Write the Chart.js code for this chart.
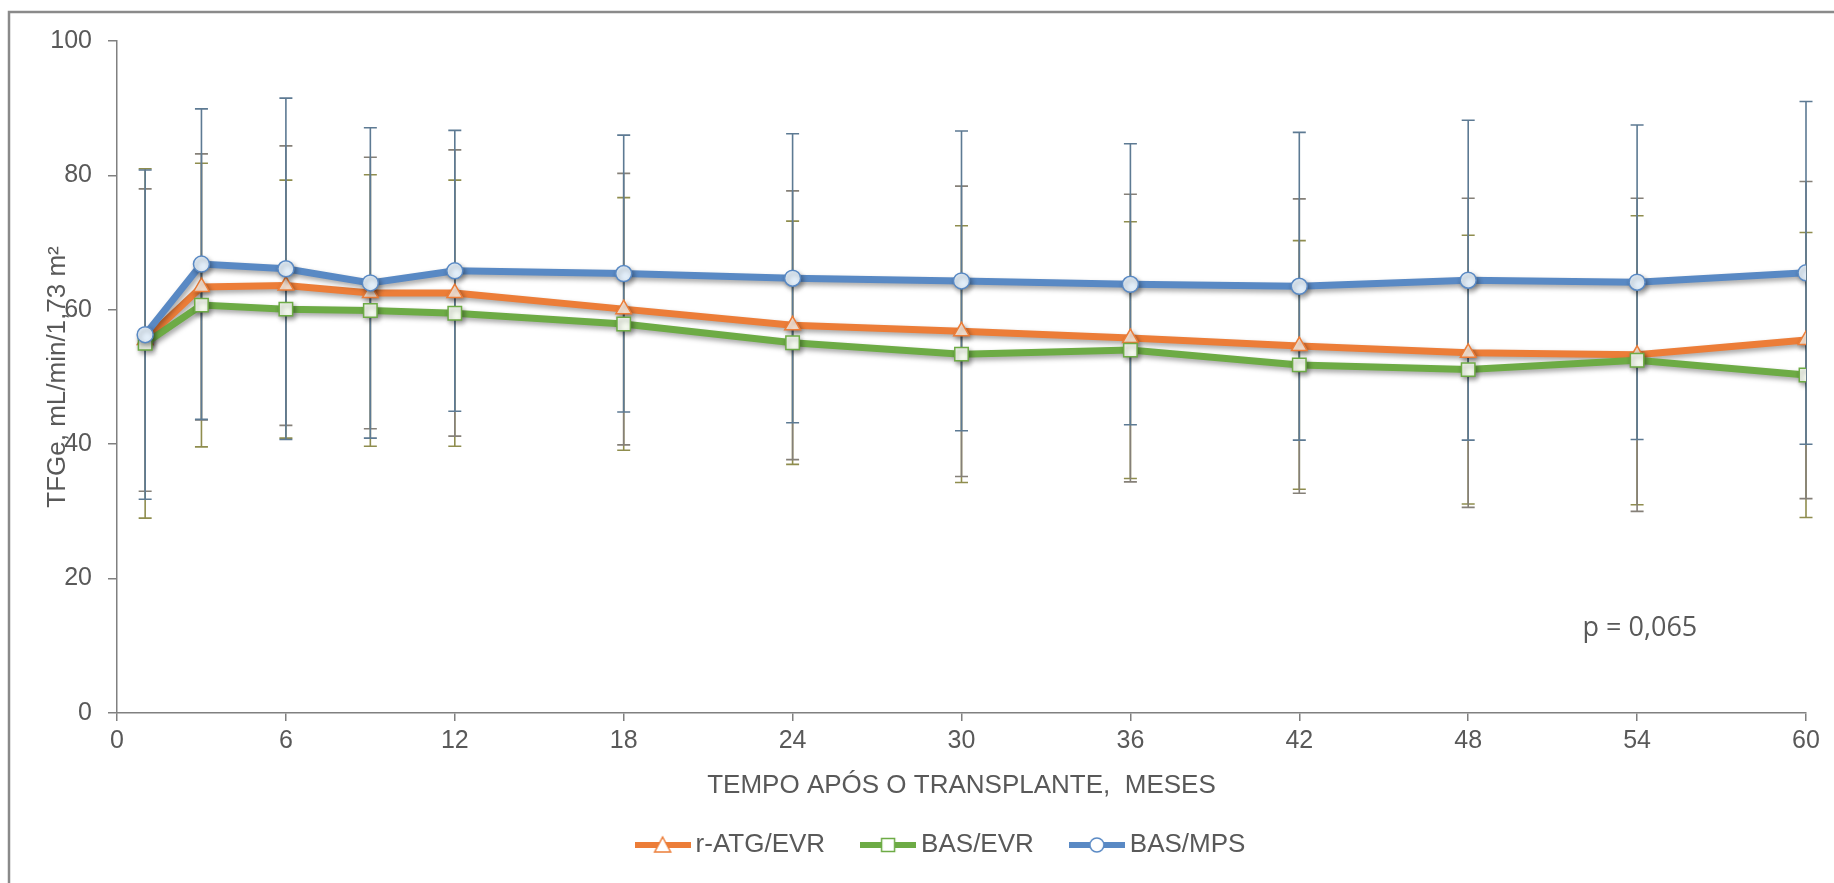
<!DOCTYPE html>
<html><head><meta charset="utf-8">
<script src="https://cdn.jsdelivr.net/npm/chart.js@4.4.1/dist/chart.umd.min.js"></script>
<style>html,body{margin:0;padding:0;background:#fff;}canvas{display:block;}</style>
</head><body>
<canvas id="c" width="1834" height="883"></canvas>
<script>
// ---- data ----
const months = [1, 3, 6, 9, 12, 18, 24, 30, 36, 42, 48, 54, 60];
const seriesNames = ['r-ATG/EVR', 'BAS/EVR', 'BAS/MPS'];
const atgMean = [55.5, 63.4, 63.6, 62.5, 62.5, 60.1, 57.7, 56.8, 55.8, 54.6, 53.6, 53.3, 55.5];
const atgSD   = [22.5, 19.8, 20.8, 20.2, 21.3, 20.2, 20.0, 21.6, 21.4, 21.9, 23.0, 23.3, 23.6];
const evrMean = [55.0, 60.7, 60.1, 59.9, 59.5, 57.9, 55.1, 53.4, 54.0, 51.8, 51.1, 52.5, 50.3];
const evrSD   = [26.0, 21.1, 19.2, 20.2, 19.8, 18.8, 18.1, 19.1, 19.1, 18.5, 20.0, 21.5, 21.2];
const mpsMean = [56.3, 66.8, 66.1, 64.0, 65.8, 65.4, 64.7, 64.3, 63.8, 63.5, 64.4, 64.1, 65.5];
const mpsSD   = [24.5, 23.1, 25.4, 23.1, 20.9, 20.6, 21.5, 22.3, 20.9, 22.9, 23.8, 23.4, 25.5];
const xTicks = [0, 6, 12, 18, 24, 30, 36, 42, 48, 54, 60];
const yTicks = [0, 20, 40, 60, 80, 100];
const xTitle = 'TEMPO APÓS O TRANSPLANTE,  MESES';
const yTitle = 'TFGe, mL/min/1,73 m²';
const pText = 'p = 0,065';
const pAt = [54.1, 12.6];

// ---- styles ----
const lineColors = ['#ec7d38', '#6dab45', '#5989c4'];
const markerFills = ['#fde6d4', '#f4f9ee', '#e2eef9'];
const markerStyles = ['triangle', 'rect', 'circle'];
const markerRadius = [9, 9.5, 8];
const errColors = ['#858078', '#8f8d4e', '#5d7a93'];
const means = [atgMean, evrMean, mpsMean];
const sds = [atgSD, evrSD, mpsSD];
const textColor = '#595959';
const axisColor = '#808080';
const FONT = "'Liberation Sans', Arial, sans-serif";

function legendIcon(i) {
  const cv = document.createElement('canvas');
  cv.width = 56; cv.height = 22;
  const c = cv.getContext('2d');
  c.strokeStyle = lineColors[i]; c.lineWidth = 6; c.lineCap = 'butt';
  c.beginPath(); c.moveTo(0, 11); c.lineTo(56, 11); c.stroke();
  c.fillStyle = '#ffffff'; c.strokeStyle = lineColors[i]; c.lineWidth = 1.5;
  c.beginPath();
  if (markerStyles[i] === 'triangle') { c.moveTo(28, 3); c.lineTo(36, 18); c.lineTo(20, 18); c.closePath(); }
  else if (markerStyles[i] === 'rect') { c.rect(21.5, 4.5, 13, 13); }
  else { c.arc(28, 11, 7, 0, Math.PI * 2); }
  c.fill(); c.stroke();
  return cv;
}
const icons = [0, 1, 2].map(legendIcon);

const errorBars = {
  id: 'errorBars',
  beforeDatasetsDraw(chart) {
    const {ctx, scales: {x, y}} = chart;
    ctx.save();
    ctx.lineWidth = 1.6;
    [1, 0, 2].forEach(si => {
      ctx.strokeStyle = errColors[si];
      months.forEach((m, i) => {
        const px = x.getPixelForValue(m);
        const t = y.getPixelForValue(means[si][i] + sds[si][i]);
        const b = y.getPixelForValue(means[si][i] - sds[si][i]);
        ctx.beginPath();
        ctx.moveTo(px, t); ctx.lineTo(px, b);
        ctx.moveTo(px - 6.5, t); ctx.lineTo(px + 6.5, t);
        ctx.moveTo(px - 6.5, b); ctx.lineTo(px + 6.5, b);
        ctx.stroke();
      });
    });
    ctx.restore();
  }
};

const shadow = {
  id: 'shadow',
  beforeDatasetDraw(chart) {
    const ctx = chart.ctx;
    ctx.save();
    ctx.shadowColor = 'rgba(0,0,0,0.35)';
    ctx.shadowBlur = 5;
    ctx.shadowOffsetX = 2;
    ctx.shadowOffsetY = 3;
  },
  afterDatasetDraw(chart) { chart.ctx.restore(); }
};

const legendShift = {
  id: 'legendShift',
  afterLayout(chart) {
    if (chart.legend) { chart.legend.left += 31; chart.legend.right += 31; }
  }
};

const frame = {
  id: 'frame',
  afterDraw(chart) {
    const {ctx, scales: {x, y}} = chart;
    ctx.save();
    ctx.strokeStyle = '#8a8a8a'; ctx.lineWidth = 2.5;
    ctx.beginPath();
    ctx.moveTo(9, chart.height); ctx.lineTo(9, 12); ctx.lineTo(chart.width, 12);
    ctx.stroke();
    ctx.fillStyle = textColor;
    ctx.font = "27px 'Open Sans', sans-serif";
    ctx.textAlign = 'center'; ctx.textBaseline = 'middle';
    ctx.fillText(pText, x.getPixelForValue(pAt[0]), y.getPixelForValue(pAt[1]));
    ctx.restore();
  }
};

const datasets = [0, 1, 2].map(i => ({
  label: seriesNames[i],
  data: months.map((m, k) => ({x: m, y: means[i][k]})),
  borderColor: lineColors[i],
  borderWidth: 7,
  backgroundColor: lineColors[i],
  pointStyle: markerStyles[i],
  pointRadius: markerRadius[i],
  pointBackgroundColor: markerFills[i],
  pointBorderColor: lineColors[i],
  pointBorderWidth: 1.5,
  tension: 0,
  order: 2 - i
}));

new Chart(document.getElementById('c'), {
  type: 'line',
  data: {datasets},
  plugins: [errorBars, shadow, legendShift, frame],
  options: {
    responsive: false,
    devicePixelRatio: 1,
    animation: false,
    layout: {padding: {left: 20, right: 28, top: 41, bottom: 15}},
    scales: {
      x: {
        type: 'linear', min: 0, max: 60,
        afterBuildTicks: s => { s.ticks = xTicks.map(v => ({value: v})); },
        afterFit: s => { s.height = 76; },
        grid: {drawOnChartArea: false, drawTicks: true, tickLength: 8, color: axisColor, lineWidth: 1.5},
        border: {display: true, color: axisColor, width: 1.5},
        ticks: {color: textColor, font: {family: FONT, size: 25}, padding: 5, maxRotation: 0},
        title: {display: true, text: xTitle, color: textColor, font: {family: FONT, size: 26, lineHeight: 1}, padding: {top: 0, bottom: -10}}
      },
      y: {
        min: 0, max: 100,
        afterBuildTicks: s => { s.ticks = yTicks.map(v => ({value: v})); },
        afterFit: s => { s.width = 97; },
        grid: {drawOnChartArea: false, drawTicks: true, tickLength: 9, color: axisColor, lineWidth: 1.5},
        border: {display: true, color: axisColor, width: 1.5},
        ticks: {color: textColor, font: {family: FONT, size: 25}, padding: 16},
        title: {display: true, text: yTitle, color: textColor, font: {family: FONT, size: 26}, padding: {top: 22, bottom: 0}}
      }
    },
    plugins: {
      tooltip: {enabled: false},
      legend: {
        position: 'bottom',
        labels: {
          usePointStyle: true,
          pointStyleWidth: 40,
          padding: 43,
          color: textColor,
          font: {family: FONT, size: 26},
          generateLabels: () => [0, 1, 2].map(i => ({
            text: seriesNames[i], pointStyle: icons[i], fillStyle: lineColors[i],
            strokeStyle: lineColors[i], lineWidth: 0, hidden: false, datasetIndex: i, fontColor: textColor
          }))
        }
      }
    }
  }
});
</script>
</body></html>
